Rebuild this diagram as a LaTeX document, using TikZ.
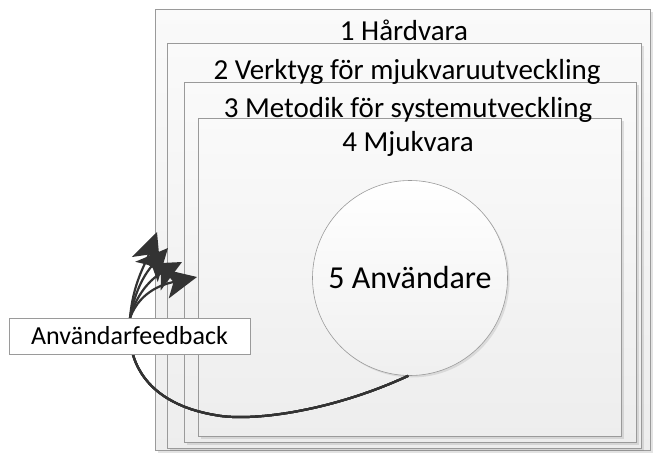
\documentclass[tikz,border=0pt]{standalone}
\usepackage{fontspec}
\setmainfont{Carlito}
\usetikzlibrary{arrows.meta,shadows}
\definecolor{edge}{HTML}{9A9A9A}
\definecolor{ink}{HTML}{333333}
\begin{document}
\begin{tikzpicture}[x=1pt,y=-1pt,
  layer/.style={draw=edge, line width=0.8pt, rectangle, anchor=north west,
    top color=white!98!black, bottom color=white!93!black,
    drop shadow={opacity=0.22, shadow xshift=2.5pt, shadow yshift=-2.5pt}},
  layertext/.style={font=\fontsize{29}{33}\selectfont, text=black, anchor=base},
  feedback/.style={draw=ink, line width=2.2pt, -{Stealth[length=32pt,width=30pt,inset=8pt]}},
]
\useasboundingbox (0,0) rectangle (655,452);

% nested layers, outermost first
\node[layer, minimum width=495pt, minimum height=441pt] (r1) at (155,9) {};
\node[layer, minimum width=474pt, minimum height=405pt] (r2) at (167,43) {};
\node[layer, minimum width=452pt, minimum height=360pt] (r3) at (184,82) {};
\node[layer, minimum width=423pt, minimum height=318pt] (r4) at (198,118) {};

% layer titles on top of the frames
\node[layertext] (l1) at (404,41) {1 Hårdvara};
\node[layertext] (l2) at (407,79) {2 Verktyg för mjukvaruutveckling};
\node[layertext] (l3) at (408,117) {3 Metodik för systemutveckling};
\node[layertext] (l4) at (408,151) {4 Mjukvara};

% the user at the centre
\node[circle, draw=edge, line width=0.6pt, minimum size=195pt, inner sep=0pt,
  top color=white, bottom color=white!94!black,
  drop shadow={opacity=0.2, shadow xshift=2pt, shadow yshift=-2pt},
  font=\fontsize{32}{36}\selectfont] (u) at (410,278) {5 Användare};

% feedback arrow heads
\coordinate (t1) at (157,232);
\coordinate (t2) at (168,248);
\coordinate (t3) at (182,262);
\coordinate (t4) at (197,277);
\coordinate (base) at (130,318);

% feedback curves from the user back out through the layers
\foreach \t/\o/\i in {t1/85/250, t2/80/228, t3/75/208, t4/70/192} {
  \draw[feedback] (u.-91) .. controls (330,412) and (250,422) .. (215,415)
    .. controls (150,404) and (125,365) .. (base)
    to[out=\o, in=\i] (\t);
}

\node[draw=edge, line width=0.8pt, fill=white, minimum width=241pt, minimum height=36pt,
  inner sep=0pt, font=\fontsize{26}{30}\selectfont] (fb) at (129.5,336) {Användarfeedback};
\end{tikzpicture}
\end{document}
